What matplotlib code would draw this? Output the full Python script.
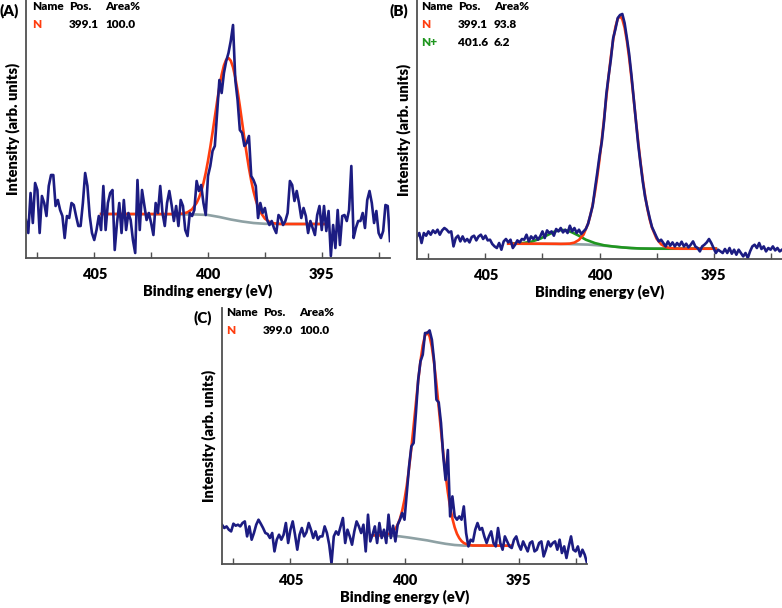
import matplotlib
matplotlib.use("Agg")
import matplotlib.pyplot as plt
from matplotlib import font_manager as fm
import numpy as np

# binding energy grid of the three scans (eV), 0.1 eV steps from 408 down to 392
E_START = 408.0
E_STEP = 0.1
N_PTS = 161

a_counts = [38, 25, 65, 35, 75, 68, 25, 62, 55, 42,
            72, 83, 83, 52, 58, 48, 42, 20, 42, 40,
            55, 53, 42, 32, 32, 55, 85, 72, 42, 25,
            18, 28, 42, 28, 72, 28, 55, 65, 68, 8,
            35, 55, 25, 58, 28, 45, 38, 18, 5, 78,
            28, 68, 53, 38, 45, 35, 23, 55, 45, 72,
            45, 32, 55, 67, 53, 37, 52, 32, 58, 52,
            28, 22, 45, 42, 48, 77, 67, 73, 55, 43,
            82, 92, 107, 112, 145, 178, 165, 185, 197, 205,
            217, 233, 178, 158, 128, 125, 112, 115, 122, 82,
            78, 72, 40, 55, 45, 50, 38, 33, 37, 30,
            25, 43, 40, 33, 37, 45, 77, 73, 57, 67,
            55, 40, 50, 42, 25, 37, 30, 23, 43, 52,
            28, 52, 27, 47, 2, 33, 10, 48, 13, 42,
            43, 37, 48, 92, 20, 30, 37, 37, 45, 30,
            58, 67, 55, 35, 47, 25, 20, 27, 53, 52,
            17]

b_counts = [22.6, 26, 16, 26, 23.3, 27.6, 24.3, 28.6, 26, 29.3,
            24.3, 28.6, 31, 29.3, 26.6, 27.6, 12.6, 21, 23.3, 17.6,
            22.6, 17.6, 20, 16.6, 22, 23.3, 18.6, 22.6, 24.3, 20,
            23.3, 18.6, 19.3, 15, 12.6, 11, 16, 9.3, 17.6, 20,
            16.6, 19.3, 11, 14.3, 18.6, 16.6, 20, 19.3, 24.3, 17.6,
            22.6, 20, 23.3, 19.3, 22.6, 27.6, 21, 28.6, 26, 27.6,
            23.3, 30, 27.6, 31, 26.6, 29.3, 26, 33.3, 27.6, 31,
            26, 29.3, 25, 27.6, 30, 35.3, 44, 53, 70, 86,
            103, 117, 138, 165, 183, 200, 221, 230, 241, 244,
            245, 236, 221, 205, 184, 160, 137, 114, 95, 77,
            62, 51, 41, 32, 27, 22, 17.6, 19.3, 16, 12.6,
            17.6, 13.3, 16.6, 12.6, 16, 13.3, 17.3, 12.6, 15.3, 11.6,
            14.3, 17.6, 12.6, 11, 7.6, 12.6, 14.3, 16.6, 20, 16,
            11, 6, 9.3, 7.6, 6, 10, 6, 11, 5.3, 9.3,
            4.3, 9.3, 6, 2.6, 6, 1, 7.6, 12.6, 14.3, 11,
            16, 10, 12.6, 7.6, 11, 9.3, 12.6, 8.6, 11, 7.6,
            9.3]

c_counts = [39.3, 36, 37.6, 34.3, 32.6, 40.3, 38.3, 39.3, 37.6, 41,
            42.6, 27.6, 37.6, 24.3, 31, 39.3, 44.3, 40.3, 36, 31,
            30, 26, 31, 12.6, 24.3, 29.3, 24.3, 29.3, 41, 21,
            34.3, 42.6, 29.3, 14.3, 29.3, 36, 27.6, 31.6, 41, 34.3,
            26, 32.6, 24.3, 27.6, 27.6, 37.6, 31, 19.3, 0.5, 27.6,
            32.6, 29.3, 37.6, 46, 21, 34.3, 27.6, 19.3, 32.6, 42.6,
            37.6, 31, 39.3, 12.6, 49.3, 22.6, 29.3, 37.6, 21, 41,
            26, 34.3, 21, 49.3, 26, 38.3, 22.6, 39.3, 44.3, 51,
            44.3, 71, 97.6, 117.6, 121, 151, 184.3, 202.6, 209.3, 231,
            231, 233.6, 224.3, 202.6, 164.3, 161.6, 141, 107.6, 84, 114,
            47.6, 67.6, 47.6, 44.3, 47.6, 44.3, 57.6, 31, 17.6, 24.3,
            22.6, 34.3, 41, 34.3, 36, 27.6, 21, 27.6, 32.6, 21,
            17.6, 36, 21, 14.3, 27.6, 22.6, 17.6, 16, 24.3, 27.6,
            19.3, 14.3, 22.6, 17.6, 12.6, 21, 22.6, 12.6, 14.3, 21,
            22.6, 7.6, 14.3, 22.6, 17.6, 21, 22.6, 14.3, 24.3, 11,
            17.6, 6, 17.6, 27.6, 14.3, 12.6, 17.6, 7.6, 14.3, 9.3,
            1]

# fitted N component (+ background), panel A
a_fit_e = [404.7, 401.5, 401.3, 401.1, 400.9, 400.7, 400.5, 400.4, 400.3, 400.2,
           400.1, 400.0, 399.9, 399.8, 399.7, 399.6, 399.5, 399.4, 399.3, 399.2,
           399.1, 399.0, 398.9, 398.8, 398.7, 398.6, 398.5, 398.4, 398.3, 398.2,
           398.1, 398.0, 397.9, 397.8, 397.7, 397.5, 397.3, 397.1, 396.9, 396.7, 394.8]
a_fit = [44.0, 44.0, 44.2, 44.4, 45.7, 48.7, 55.1, 60.0, 66.5, 74.9,
         85.1, 97.2, 110.7, 125.5, 141.0, 156.4, 170.8, 183.2, 192.6, 198.3,
         200.0, 197.3, 190.7, 180.4, 167.1, 151.9, 135.7, 119.5, 104.0, 89.8,
         77.3, 66.7, 58.0, 51.2, 46.0, 39.4, 36.1, 34.7, 34.2, 34.0, 34.0]
a_bg_e = [404.7, 400.5, 400.0, 399.5, 399.0, 398.5, 398.0, 397.5, 397.0, 394.8]
a_bg = [44.0, 43.5, 43.0, 41.0, 38.5, 36.5, 35.0, 34.2, 34.0, 34.0]

# panel B: N and N+ components
b_fit_e = [404.0, 402.5, 401.9, 401.7, 401.5, 401.3, 401.1, 400.9, 400.7, 400.5,
           400.4, 400.3, 400.2, 400.1, 400.0, 399.9, 399.8, 399.7, 399.6, 399.5,
           399.4, 399.3, 399.2, 399.1, 399.0, 398.9, 398.8, 398.7, 398.6, 398.5,
           398.4, 398.3, 398.2, 398.1, 398.0, 397.9, 397.8, 397.7, 397.5, 397.3,
           397.1, 396.9, 396.7, 396.5, 394.9]
b_fit = [15.3, 15.3, 15.2, 15.1, 15.2, 15.4, 16.4, 19.1, 24.4, 35.4,
         43.6, 54.1, 66.7, 82.1, 99.5, 119.1, 140.2, 161.8, 183.0, 202.6,
         219.4, 232.2, 240.2, 242.8, 239.8, 231.4, 218.2, 201.1, 181.1, 159.6,
         137.7, 116.3, 96.4, 78.7, 63.1, 50.1, 39.6, 31.4, 20.4, 14.7,
         12.0, 10.9, 10.5, 10.3, 10.3]
b_np_e = [404.0, 403.8, 403.4, 403.0, 402.6, 402.3, 402.0, 401.8, 401.6, 401.4,
          401.2, 400.9, 400.6, 400.2, 399.8, 399.4, 399.0, 398.6, 398.2, 397.6, 394.9]
b_np = [15.3, 15.4, 15.8, 17.2, 20.3, 23.7, 27.1, 28.6, 29.0, 28.4,
        26.6, 23.2, 19.3, 15.9, 13.7, 12.5, 11.6, 10.9, 10.5, 10.3, 10.3]
b_bg_e = [404.0, 401.5, 400.5, 400.0, 399.5, 399.1, 398.7, 398.3, 397.8, 394.9]
b_bg = [15.3, 15.0, 14.4, 13.6, 12.7, 11.8, 11.1, 10.6, 10.35, 10.3]

# panel C
c_fit_e = [401.4, 401.0, 400.8, 400.6, 400.4, 400.3, 400.2, 400.1, 400.0, 399.9,
           399.8, 399.7, 399.6, 399.5, 399.4, 399.3, 399.2, 399.1, 399.0, 398.9,
           398.8, 398.7, 398.6, 398.5, 398.4, 398.3, 398.2, 398.1, 398.0, 397.9,
           397.8, 397.7, 397.6, 397.5, 397.4, 397.2, 397.0, 395.3]
c_fit = [28.7, 28.8, 29.3, 31.0, 35.2, 39.2, 45.2, 53.4, 64.4, 78.5,
         95.8, 115.8, 137.9, 160.8, 183.1, 202.9, 218.5, 228.4, 231.6, 227.7,
         216.9, 200.5, 179.9, 156.9, 133.2, 110.4, 89.6, 71.7, 57.0, 45.4,
         36.6, 30.2, 25.9, 22.9, 21.0, 19.1, 18.5, 18.3]
c_bg_e = [401.4, 400.6, 400.2, 399.8, 399.4, 399.0, 398.6, 398.2, 397.8, 397.4, 395.3]
c_bg = [28.7, 28.4, 27.6, 26.4, 25.0, 23.6, 21.8, 20.2, 19.0, 18.4, 18.3]

# legend tables
a_rows = [("N", "399.1", "100.0")]
b_rows = [("N", "399.1", "93.8"), ("N+", "401.6", "6.2")]
c_rows = [("N", "399.0", "100.0")]

BLUE = "#1c1c82"
ORANGE = "#ff3d0f"
GRAY = "#8ea1a4"
GREEN = "#1f961f"
SPINE = "#505050"


def has_bold(fam):
    try:
        path = fm.findfont(fm.FontProperties(family=fam, weight="bold"),
                           fallback_to_default=False)
    except Exception:
        return False
    p = path.lower()
    return "bold" in p or "black" in p or "heavy" in p


# Calibri-like bold face: first family that really has a bold file
FONT = next((f for f in ["Lato", "Open Sans", "Roboto", "Liberation Sans"] if has_bold(f)),
            "DejaVu Sans")
WEIGHT = "heavy"

plt.rcParams["font.family"] = [FONT, "DejaVu Sans"]
plt.rcParams["font.weight"] = WEIGHT

W, H = 782, 608
fig = plt.figure(figsize=(W / 100, H / 100), dpi=100)
energy = E_START - E_STEP * np.arange(N_PTS)


def px_axes(x0, y0, x1, y1):
    return fig.add_axes([x0 / W, 1 - y1 / H, (x1 - x0) / W, (y1 - y0) / H])


def px_text(x, y, s, **kw):
    fig.text(x / W, 1 - y / H, s, va="center", ha="left", fontweight=WEIGHT, **kw)


def style(ax, ytop):
    ax.set_xlim(408, 392)
    ax.set_ylim(0, ytop)
    for s in ["top", "right"]:
        ax.spines[s].set_visible(False)
    for s in ["left", "bottom"]:
        ax.spines[s].set_color(SPINE)
        ax.spines[s].set_linewidth(1.3)
    ax.set_yticks([])
    ax.set_xticks([407.5, 405, 402.5, 400, 397.5, 395, 392.5])
    ax.set_xticklabels(["", "405", "", "400", "", "395", ""])
    for lab in ax.get_xticklabels():
        lab.set_fontweight(WEIGHT)
    ax.tick_params(axis="x", direction="in", length=4, width=1, color=SPINE,
                   labelsize=10.5, pad=7)
    ax.set_xlabel("Binding energy (eV)", fontsize=10.5, fontweight=WEIGHT, labelpad=2)
    ax.set_ylabel("Intensity (arb. units)", fontsize=10.5, fontweight=WEIGHT, labelpad=4)
    ax.patch.set_alpha(0)


def legend(x, y, tag, rows, colors):
    px_text(x - 32, y + 5, tag, fontsize=11)
    px_text(x, y, "Name", fontsize=8.5)
    px_text(x + 37, y, "Pos.", fontsize=8.5)
    px_text(x + 73, y, "Area%", fontsize=8.5)
    for k, (name, pos, area) in enumerate(rows):
        yy = y + 18 * (k + 1)
        px_text(x, yy, name, fontsize=8.5, color=colors[k])
        px_text(x + 37, yy, pos, fontsize=8.5)
        px_text(x + 73, yy, area, fontsize=8.5)


LW = 1.9

# (A)
ax = px_axes(26, 0, 390, 258)
ax.plot(a_bg_e, a_bg, color=GRAY, lw=LW)
ax.plot(a_fit_e, a_fit, color=ORANGE, lw=LW)
ax.plot(energy, a_counts, color=BLUE, lw=LW)
style(ax, 258)
legend(32, 6, "(A)", a_rows, [ORANGE])

# (B)
ax = px_axes(417, 0, 782, 259)
ax.plot(b_bg_e, b_bg, color=GRAY, lw=LW)
ax.plot(b_np_e, b_np, color=GREEN, lw=LW)
ax.plot(b_fit_e, b_fit, color=ORANGE, lw=LW)
ax.plot(energy, b_counts, color=BLUE, lw=LW)
style(ax, 259)
legend(421, 6, "(B)", b_rows, [ORANGE, GREEN])

# (C)
ax = px_axes(222, 308, 587, 564)
ax.plot(c_bg_e, c_bg, color=GRAY, lw=LW)
ax.plot(c_fit_e, c_fit, color=ORANGE, lw=LW)
ax.plot(energy, c_counts, color=BLUE, lw=LW)
style(ax, 256)
legend(226, 313, "(C)", c_rows, [ORANGE])

fig.savefig("out.png", dpi=100)
